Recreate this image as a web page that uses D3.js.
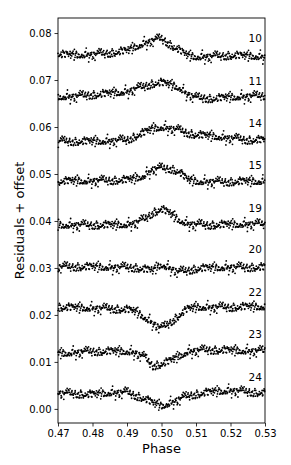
<!DOCTYPE html>
<html><head><meta charset="utf-8">
<script src="https://cdn.jsdelivr.net/npm/d3@7"></script>
<style>
html,body{margin:0;padding:0;background:#fff;}
text{font-family:"DejaVu Sans",sans-serif;fill:#000;}
</style></head>
<body><div id="chart"></div>
<script>
// ---- data ----
const bandNames = ["10","11","14","15","19","20","22","23","24"];
const labelY    = [0.0781,0.0689,0.0599,0.0510,0.0419,0.0331,0.0241,0.0151,0.0060];
const knotPhase = [0.47,0.475,0.48,0.485,0.49,0.4925,0.495,0.4975,0.5,0.5025,0.505,0.5075,0.51,0.515,0.52,0.525,0.53];
const trend10 = [0.0754,0.0753,0.0754,0.0757,0.0762,0.0770,0.0778,0.0784,0.0788,0.0775,0.0764,0.0752,0.0749,0.0750,0.0752,0.0751,0.0749];
const trend11 = [0.0664,0.0665,0.0668,0.0671,0.0675,0.0681,0.0686,0.0692,0.0694,0.0690,0.0684,0.0670,0.0662,0.0660,0.0663,0.0665,0.0666];
const trend14 = [0.0569,0.0569,0.0569,0.0570,0.0572,0.0580,0.0588,0.0596,0.0599,0.0597,0.0593,0.0587,0.0583,0.0580,0.0576,0.0572,0.0572];
const trend15 = [0.0484,0.0485,0.0485,0.0486,0.0487,0.0490,0.0496,0.0510,0.0512,0.0511,0.0505,0.0488,0.0484,0.0483,0.0483,0.0484,0.0484];
const trend19 = [0.0391,0.0391,0.0391,0.0391,0.0392,0.0396,0.0403,0.0417,0.0425,0.0416,0.0402,0.0394,0.0392,0.0391,0.0392,0.0393,0.0393];
const trend20 = [0.0302,0.0302,0.0302,0.0301,0.0301,0.0300,0.0297,0.0294,0.0307,0.0299,0.0291,0.0294,0.0298,0.0300,0.0301,0.0301,0.0301];
const trend22 = [0.0216,0.0215,0.0214,0.0213,0.0211,0.0207,0.0195,0.0182,0.0171,0.0183,0.0198,0.0212,0.0216,0.0216,0.0216,0.0217,0.0217];
const trend23 = [0.0117,0.0120,0.0122,0.0122,0.0122,0.0119,0.0110,0.0091,0.0095,0.0102,0.0111,0.0121,0.0124,0.0125,0.0124,0.0123,0.0123];
const trend24 = [0.0033,0.0032,0.0030,0.0034,0.0035,0.0028,0.0022,0.0012,0.0006,0.0012,0.0020,0.0027,0.0031,0.0036,0.0039,0.0036,0.0033];
// scatter about the trend, in units of 1e-4 (hand-listed spread of the points)
const scatter = [3,-5,1,-8,6,-2,9,-4,0,5,-7,2,-1,7,-3,4,-10,1,6,-6,3,-2,8,-5,0,2,-4,11,-1,5,-8,3,-3,6,-2,1,-6,4,-9,2,7,-1,0,-4,5,-7,3,15,-2,6,-5,1,-3,8,-1,4,-6,2,-13,5,0,-3,7,-4,1,-2,9,-7,3,-1,6,-5,2,-8,4,0,-3,10,-6,1,5,-2,3,-9,7,-4,2,-1,6,-16,0,4,-5,8,-2,3,-7,1,5,-3,2,-6,9,-1,4,-4,0,6,-8,3,-2,7,-5,1,12,-3,-11,4,-1,8,-6,2,-4,13,0,-7,5,-2,3];
const xTicks = [0.47,0.48,0.49,0.50,0.51,0.52,0.53];
const yTicks = [0.00,0.01,0.02,0.03,0.04,0.05,0.06,0.07,0.08];
const trends = [trend10,trend11,trend14,trend15,trend19,trend20,trend22,trend23,trend24];

// ---- layout ----
const W = 291, H = 465;
const L = 58, R = 265, T = 18, B = 423;
const svg = d3.select("#chart").append("svg").attr("width", W).attr("height", H);
const x = d3.scaleLinear().domain([0.47, 0.53]).range([L, R]);
const y = d3.scaleLinear().domain([-0.0030, 0.0832]).range([B, T]);

// points
const nPts = 460;
const pts = [];
trends.forEach((tr, b) => {
  const t = d3.scaleLinear().domain(knotPhase).range(tr);
  const n = scatter.length;
  for (let i = 0; i < nPts; i++) {
    const ph = 0.47 + (i + 0.5) * (0.06 / nPts) + scatter[(i * 5 + b * 17 + 3) % n] * 0.000008;
    if (ph < 0.47 || ph > 0.53) continue;
    const v = t(ph) + scatter[(i * 7 + b * 29) % n] * 0.0001 * 0.95;
    pts.push([ph, v]);
  }
});
svg.append("g").selectAll("circle").data(pts).join("circle")
  .attr("cx", d => x(d[0])).attr("cy", d => y(d[1])).attr("r", 0.9).attr("fill", "#000");

// band labels
svg.append("g").selectAll("text").data(bandNames).join("text")
  .attr("x", x(0.5291)).attr("y", (d, i) => y(labelY[i]))
  .attr("text-anchor", "end").attr("font-size", 10.5).text(d => d);

// frame
svg.append("rect").attr("x", L).attr("y", T).attr("width", R - L).attr("height", B - T)
  .attr("fill", "none").attr("stroke", "#000").attr("stroke-width", 0.9);

// axes
const xAxis = d3.axisBottom(x).tickValues(xTicks).tickFormat(d3.format(".2f")).tickSize(3.5).tickPadding(3);
const yAxis = d3.axisLeft(y).tickValues(yTicks).tickFormat(d3.format(".2f")).tickSize(3.5).tickPadding(3);
const gx = svg.append("g").attr("transform", `translate(0,${B})`).call(xAxis);
const gy = svg.append("g").attr("transform", `translate(${L},0)`).call(yAxis);
[gx, gy].forEach(g => {
  g.select(".domain").remove();
  g.selectAll("line").attr("stroke", "#000").attr("stroke-width", 0.8);
  g.selectAll("text").attr("font-size", 10).attr("font-family", "DejaVu Sans").attr("fill", "#000");
});

// axis titles
svg.append("text").attr("x", (L + R) / 2).attr("y", 453).attr("text-anchor", "middle")
  .attr("font-size", 13).text("Phase");
svg.append("text").attr("transform", `translate(24,${(T + B) / 2}) rotate(-90)`)
  .attr("text-anchor", "middle").attr("font-size", 13).text("Residuals + offset");
</script></body></html>
